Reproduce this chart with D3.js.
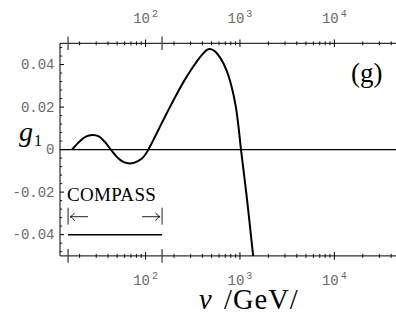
<!DOCTYPE html>
<html>
<head>
<meta charset="utf-8">
<script src="https://cdn.jsdelivr.net/npm/d3@7/dist/d3.min.js"></script>
<style>
  html, body { margin: 0; padding: 0; background: #fff; }
  svg { display: block; }
</style>
</head>
<body>
<svg id="chart" width="396" height="331"></svg>
<script>
// g1 as a function of the photon energy nu (GeV)
const nuValues = [16.6, 20, 23, 27.4, 32, 37, 42.8, 50, 58, 68.5, 80, 92, 100, 107,
                  115, 125, 140, 160, 185, 215, 250, 300, 350, 400, 463, 530, 614,
                  723, 817, 900, 960, 1026, 1178, 1276, 1384];
const g1Values = [0, 0.0038, 0.006, 0.0069, 0.0062, 0.0036, 0, -0.0036, -0.0058, -0.0065, -0.0058, -0.0041, -0.0022, 0,
                  0.0026, 0.0058, 0.0102, 0.0153, 0.0208, 0.0263, 0.0315, 0.0372, 0.0415, 0.0448, 0.0472, 0.0466, 0.0434,
                  0.0372, 0.0295, 0.0207, 0.0116, 0, -0.022, -0.036, -0.0505];

// COMPASS kinematic range in nu
const compassRange = [15.1, 149.5];
const compassLevel = -0.04;

// axes
const xDomain = [12.4, 45000];
const yDomain = [-0.05, 0.05];
const xMajorTicks = [100, 1000, 10000];
const xTickExponents = ["2", "3", "4"];
const yMajorTicks = [-0.04, -0.02, 0, 0.02, 0.04];
const yTickLabels = ["-0.04", "-0.02", "0", "0.02", "0.04"];
const yMinorStep = 0.004;

const svg = d3.select("#chart");
const plotLeft = 60, plotRight = 396, plotTop = 43.3, plotBottom = 255.9;

const x = d3.scaleLog().domain(xDomain).range([plotLeft, plotRight]);
const y = d3.scaleLinear().domain(yDomain).range([plotBottom, plotTop]);

const ink = "#000";
const labelGray = "#6a6a6a";
const monoFont = "'Liberation Mono', 'Courier New', monospace";
const serifFont = "'Liberation Serif', 'Times New Roman', serif";

// minor x ticks: 2..9 times each decade inside the domain
const xMinorTicks = [];
for (let p = 1; p <= 4; p++) {
  for (let m = 2; m <= 9; m++) {
    const v = m * Math.pow(10, p);
    if (v > xDomain[0] && v < xDomain[1]) xMinorTicks.push(v);
  }
}

// clip for the curve
svg.append("defs").append("clipPath").attr("id", "plotClip")
  .append("rect").attr("x", plotLeft).attr("y", plotTop)
  .attr("width", plotRight - plotLeft).attr("height", plotBottom - plotTop);

// zero line
svg.append("line")
  .attr("x1", plotLeft).attr("x2", plotRight)
  .attr("y1", y(0)).attr("y2", y(0))
  .attr("stroke", ink).attr("stroke-width", 1.2);

// horizontal axes (top and bottom)
[plotTop, plotBottom].forEach(yy => {
  const g = svg.append("g");
  g.append("line").attr("x1", plotLeft).attr("x2", plotRight).attr("y1", yy).attr("y2", yy)
    .attr("stroke", ink).attr("stroke-width", 1);
  g.selectAll(".minor").data(xMinorTicks).enter().append("line")
    .attr("x1", d => x(d)).attr("x2", d => x(d))
    .attr("y1", yy - 2).attr("y2", yy + 2)
    .attr("stroke", ink).attr("stroke-width", 0.9);
  g.selectAll(".major").data(xMajorTicks).enter().append("line")
    .attr("x1", d => x(d)).attr("x2", d => x(d))
    .attr("y1", yy - 3.8).attr("y2", yy + 3.8)
    .attr("stroke", ink).attr("stroke-width", 1);
  g.selectAll(".compass").data(compassRange).enter().append("line")
    .attr("x1", d => x(d)).attr("x2", d => x(d))
    .attr("y1", yy - 6.8).attr("y2", yy + 6.8)
    .attr("stroke", "#444").attr("stroke-width", 1.3);
});

// left axis
svg.append("line").attr("x1", plotLeft).attr("x2", plotLeft).attr("y1", plotTop).attr("y2", plotBottom)
  .attr("stroke", ink).attr("stroke-width", 1);
const yMinor = d3.range(-0.048, 0.0481, yMinorStep).map(v => Math.round(v * 1000) / 1000)
  .filter(v => !yMajorTicks.some(t => Math.abs(t - v) < 1e-6));
svg.selectAll(".yminor").data(yMinor).enter().append("line")
  .attr("x1", plotLeft).attr("x2", plotLeft + 2.2)
  .attr("y1", d => y(d)).attr("y2", d => y(d))
  .attr("stroke", ink).attr("stroke-width", 0.9);
svg.selectAll(".ymajor").data(yMajorTicks).enter().append("line")
  .attr("x1", plotLeft).attr("x2", plotLeft + 4)
  .attr("y1", d => y(d)).attr("y2", d => y(d))
  .attr("stroke", ink).attr("stroke-width", 1);

// y tick labels
svg.selectAll(".ylab").data(yMajorTicks).enter().append("text")
  .attr("x", plotLeft - 5.5).attr("y", d => y(d) + 4.5)
  .attr("text-anchor", "end")
  .attr("font-family", monoFont).attr("font-size", 14)
  .attr("fill", labelGray)
  .text((d, i) => yTickLabels[i]);

// x tick labels (powers of ten) on top and bottom
[23, 284.5].forEach(base => {
  xMajorTicks.forEach((v, i) => {
    const t = svg.append("text")
      .attr("x", x(v)).attr("y", base)
      .attr("text-anchor", "middle")
      .attr("font-family", monoFont).attr("font-size", 14)
      .attr("fill", labelGray);
    t.append("tspan").text("10");
    t.append("tspan").attr("dy", -6).attr("dx", 2).attr("font-size", 10).text(xTickExponents[i]);
  });
});

// the g1 curve
const line = d3.line()
  .x((d, i) => x(nuValues[i]))
  .y((d, i) => y(g1Values[i]))
  .curve(d3.curveCatmullRom.alpha(0.5));
svg.append("path")
  .datum(nuValues)
  .attr("clip-path", "url(#plotClip)")
  .attr("d", line)
  .attr("fill", "none").attr("stroke", ink).attr("stroke-width", 2);

// COMPASS range indicator
svg.append("line")
  .attr("x1", x(compassRange[0])).attr("x2", x(compassRange[1]))
  .attr("y1", y(compassLevel)).attr("y2", y(compassLevel))
  .attr("stroke", ink).attr("stroke-width", 1.5);
svg.append("text")
  .attr("x", x(compassRange[0]) - 1).attr("y", 200.8)
  .attr("font-family", serifFont).attr("font-size", 19)
  .attr("letter-spacing", 0.3)
  .attr("fill", ink)
  .text("COMPASS");

const arrowY = 216.7;
const arrowLen = 20;
const a0 = x(compassRange[0]), a1 = x(compassRange[1]);
const arrowG = svg.append("g").attr("stroke", "#222").attr("fill", "none").attr("stroke-width", 1);
// left end bar and arrow
arrowG.append("line").attr("x1", a0).attr("x2", a0).attr("y1", arrowY - 9).attr("y2", arrowY + 8);
arrowG.append("line").attr("x1", a0 + 2).attr("x2", a0 + arrowLen).attr("y1", arrowY).attr("y2", arrowY);
arrowG.append("path").attr("d", `M${a0 + 6.5},${arrowY - 4} Q${a0 + 4.5},${arrowY - 0.6} ${a0 + 2},${arrowY} Q${a0 + 4.5},${arrowY + 0.6} ${a0 + 6.5},${arrowY + 4}`);
// right end bar and arrow
arrowG.append("line").attr("x1", a1).attr("x2", a1).attr("y1", arrowY - 9).attr("y2", arrowY + 8);
arrowG.append("line").attr("x1", a1 - arrowLen).attr("x2", a1 - 2).attr("y1", arrowY).attr("y2", arrowY);
arrowG.append("path").attr("d", `M${a1 - 6.5},${arrowY - 4} Q${a1 - 4.5},${arrowY - 0.6} ${a1 - 2},${arrowY} Q${a1 - 4.5},${arrowY + 0.6} ${a1 - 6.5},${arrowY + 4}`);

// axis titles and panel tag
const yTitle = svg.append("text")
  .attr("x", 19).attr("y", 141)
  .attr("font-family", serifFont).attr("fill", ink);
yTitle.append("tspan").attr("font-size", 28).attr("font-style", "italic").text("g");
yTitle.append("tspan").attr("font-size", 16).attr("dy", 4.5).attr("dx", 1).text("1");

const xTitle = svg.append("text")
  .attr("x", 199).attr("y", 308.5)
  .attr("font-family", serifFont).attr("font-size", 28.5).attr("fill", ink);
xTitle.append("tspan").attr("font-style", "italic").text("ν");
xTitle.append("tspan").attr("x", 224).attr("letter-spacing", 1).text("/GeV/");

svg.append("text")
  .attr("x", 351).attr("y", 82)
  .attr("font-family", serifFont).attr("font-size", 27).attr("fill", ink)
  .text("(g)");
</script>
</body>
</html>
